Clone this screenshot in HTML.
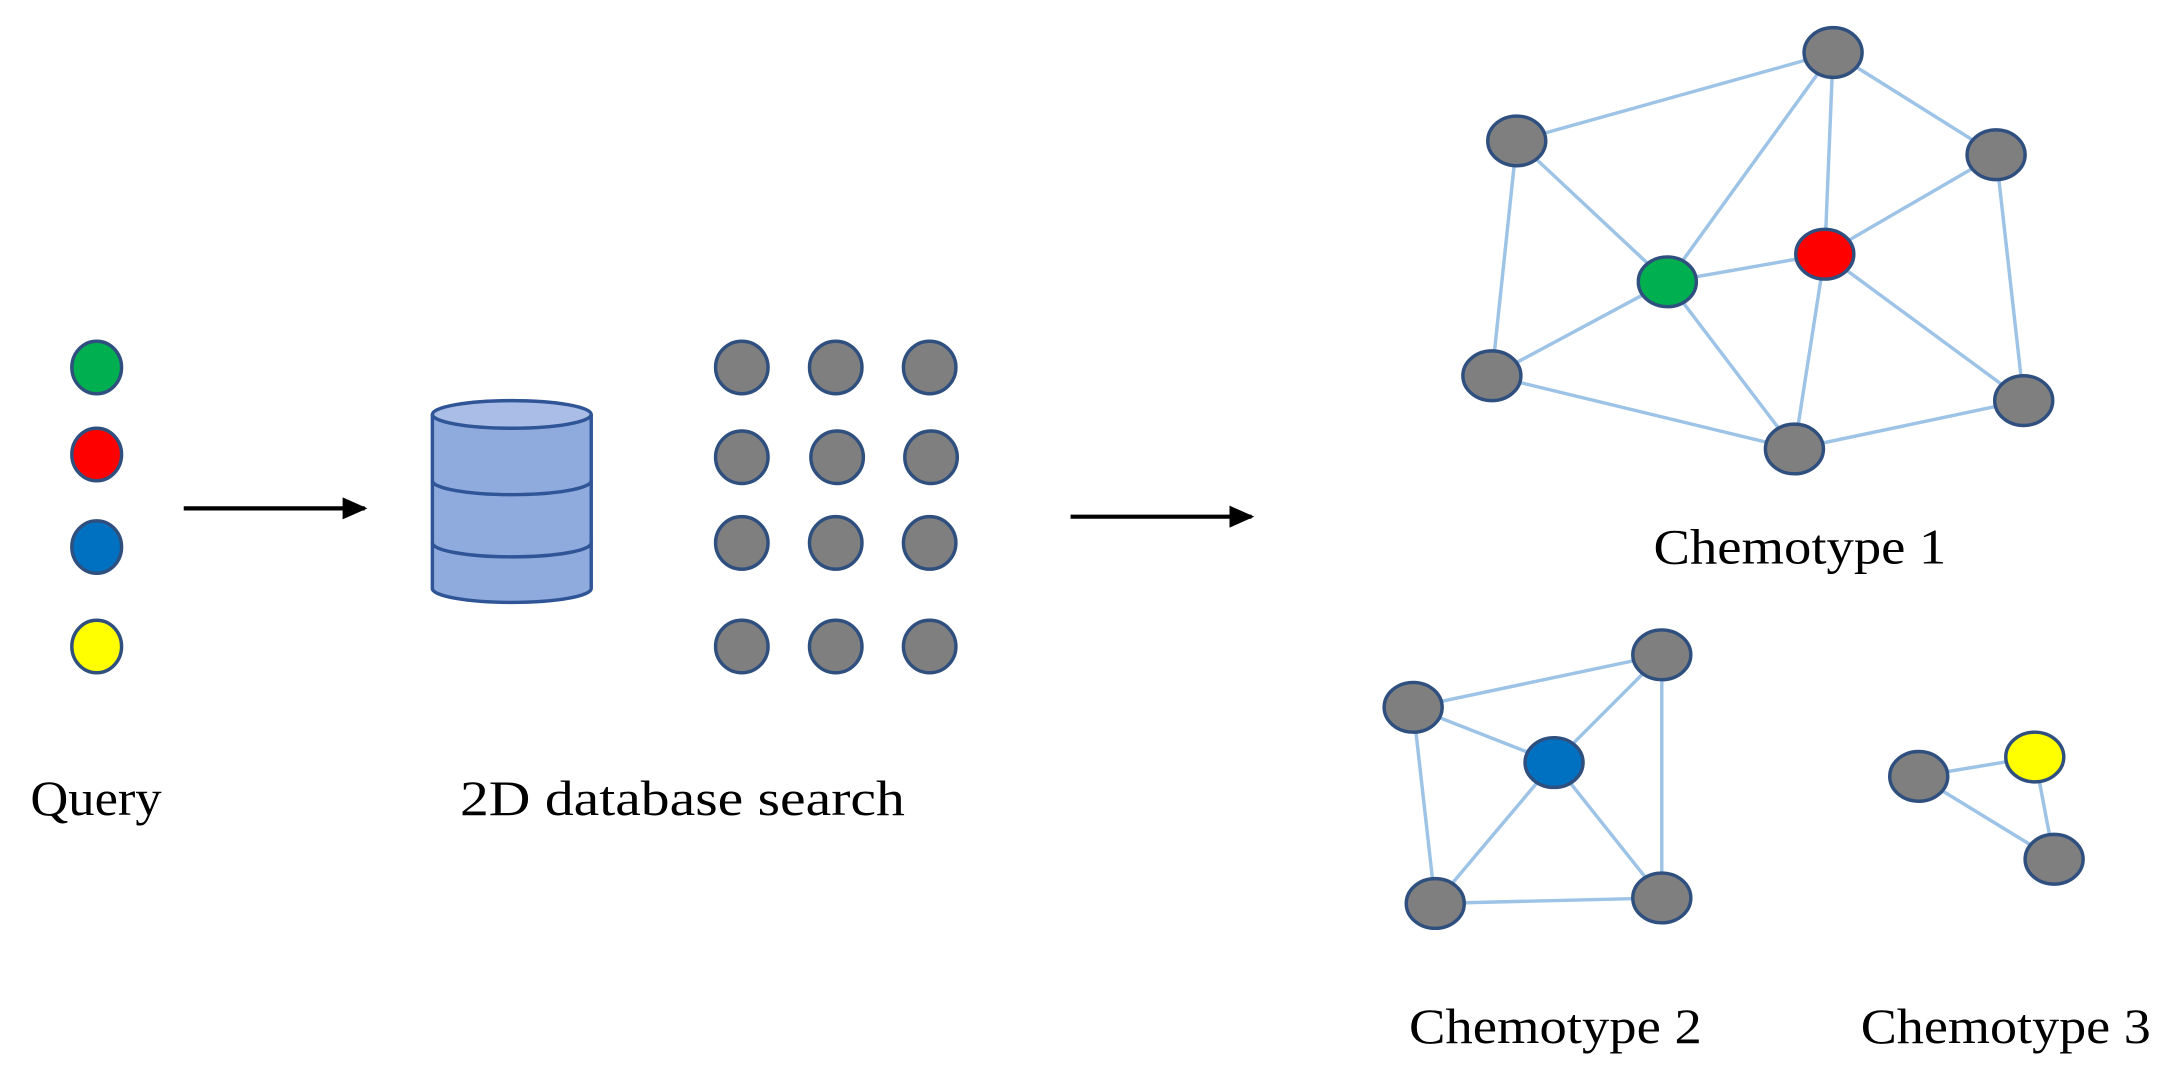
<!DOCTYPE html>
<html><head><meta charset="utf-8"><style>html,body{margin:0;padding:0;background:#fff}svg{display:block}</style></head>
<body>
<svg width="2166" height="1072" viewBox="0 0 1568 776" preserveAspectRatio="none" xmlns="http://www.w3.org/2000/svg">
<defs><marker id="ah" markerWidth="18" markerHeight="16" refX="16" refY="8" orient="auto" markerUnits="userSpaceOnUse"><path d="M0,0 L18,8 L0,16 Z" fill="#000"/></marker></defs>
<g fill="#7f7f7f" stroke="#2f4f7f" stroke-width="2.5">
<ellipse cx="70" cy="266" rx="18" ry="19" fill="#00b050"/>
<ellipse cx="70" cy="329" rx="18" ry="19" fill="#ff0000"/>
<ellipse cx="70" cy="396" rx="18" ry="19" fill="#0070c0"/>
<ellipse cx="70" cy="468" rx="18" ry="19" fill="#ffff00"/>
</g>
<line x1="133" y1="368" x2="264" y2="368" stroke="#000" stroke-width="3" marker-end="url(#ah)"/>
<line x1="775" y1="374" x2="906" y2="374" stroke="#000" stroke-width="3" marker-end="url(#ah)"/>
<g stroke="#2f5597" stroke-width="2.5" fill="#8faadc">
<path d="M313,300 L313,426 A57,10 0 0 0 428,426 L428,300"/>
<ellipse cx="370.5" cy="300" rx="57.5" ry="10" fill="#a9bde6"/>
<path d="M313,348 A57,10 0 0 0 428,348" fill="none"/>
<path d="M313,393 A57,10 0 0 0 428,393" fill="none"/>
</g>
<g fill="#7f7f7f" stroke="#2f4f7f" stroke-width="2.5">
<circle cx="537" cy="266" r="19"/><circle cx="605" cy="266" r="19"/><circle cx="673" cy="266" r="19"/>
<circle cx="537" cy="331" r="19"/><circle cx="606" cy="331" r="19"/><circle cx="674" cy="331" r="19"/>
<circle cx="537" cy="393" r="19"/><circle cx="605" cy="393" r="19"/><circle cx="673" cy="393" r="19"/>
<circle cx="537" cy="468" r="19"/><circle cx="605" cy="468" r="19"/><circle cx="673" cy="468" r="19"/>
</g>
<g stroke="#9dc3e6" stroke-width="2.5">
<line x1="1098" y1="102" x2="1327" y2="38"/><line x1="1327" y1="38" x2="1445" y2="112"/>
<line x1="1098" y1="102" x2="1207" y2="204"/><line x1="1098" y1="102" x2="1080" y2="272"/>
<line x1="1327" y1="38" x2="1207" y2="204"/><line x1="1327" y1="38" x2="1321" y2="184"/>
<line x1="1445" y1="112" x2="1321" y2="184"/><line x1="1445" y1="112" x2="1465" y2="290"/>
<line x1="1207" y1="204" x2="1321" y2="184"/><line x1="1207" y1="204" x2="1080" y2="272"/>
<line x1="1207" y1="204" x2="1299" y2="325"/><line x1="1321" y1="184" x2="1299" y2="325"/>
<line x1="1321" y1="184" x2="1465" y2="290"/><line x1="1080" y1="272" x2="1299" y2="325"/>
<line x1="1299" y1="325" x2="1465" y2="290"/>
<line x1="1023" y1="512" x2="1203" y2="474"/><line x1="1023" y1="512" x2="1125" y2="552"/>
<line x1="1023" y1="512" x2="1039" y2="654"/><line x1="1203" y1="474" x2="1125" y2="552"/>
<line x1="1203" y1="474" x2="1203" y2="650"/><line x1="1125" y1="552" x2="1039" y2="654"/>
<line x1="1125" y1="552" x2="1203" y2="650"/><line x1="1039" y1="654" x2="1203" y2="650"/>
<line x1="1389" y1="562" x2="1473" y2="548"/><line x1="1389" y1="562" x2="1487" y2="622"/>
<line x1="1473" y1="548" x2="1487" y2="622"/>
</g>
<g fill="#7f7f7f" stroke="#2f4f7f" stroke-width="2.5">
<ellipse cx="1327" cy="38" rx="21" ry="18"/><ellipse cx="1098" cy="102" rx="21" ry="18"/>
<ellipse cx="1445" cy="112" rx="21" ry="18"/><ellipse cx="1207" cy="204" rx="21" ry="18" fill="#00b050"/>
<ellipse cx="1321" cy="184" rx="21" ry="18" fill="#ff0000"/><ellipse cx="1080" cy="272" rx="21" ry="18"/>
<ellipse cx="1465" cy="290" rx="21" ry="18"/><ellipse cx="1299" cy="325" rx="21" ry="18"/>
<ellipse cx="1023" cy="512" rx="21" ry="18"/><ellipse cx="1203" cy="474" rx="21" ry="18"/>
<ellipse cx="1125" cy="552" rx="21" ry="18" fill="#0070c0"/><ellipse cx="1039" cy="654" rx="21" ry="18"/>
<ellipse cx="1203" cy="650" rx="21" ry="18"/>
<ellipse cx="1389" cy="562" rx="21" ry="18"/><ellipse cx="1473" cy="548" rx="21" ry="18" fill="#ffff00"/>
<ellipse cx="1487" cy="622" rx="21" ry="18"/>
</g>
<g font-family="'Liberation Serif', serif" font-size="36" fill="#000">
<text x="22" y="590" textLength="95" lengthAdjust="spacingAndGlyphs">Query</text>
<text x="333" y="590" textLength="322" lengthAdjust="spacingAndGlyphs">2D database search</text>
<text x="1197" y="408" textLength="212" lengthAdjust="spacingAndGlyphs">Chemotype 1</text>
<text x="1020" y="755" textLength="212" lengthAdjust="spacingAndGlyphs">Chemotype 2</text>
<text x="1347" y="755" textLength="210" lengthAdjust="spacingAndGlyphs">Chemotype 3</text>
</g>
</svg>
</body></html>
